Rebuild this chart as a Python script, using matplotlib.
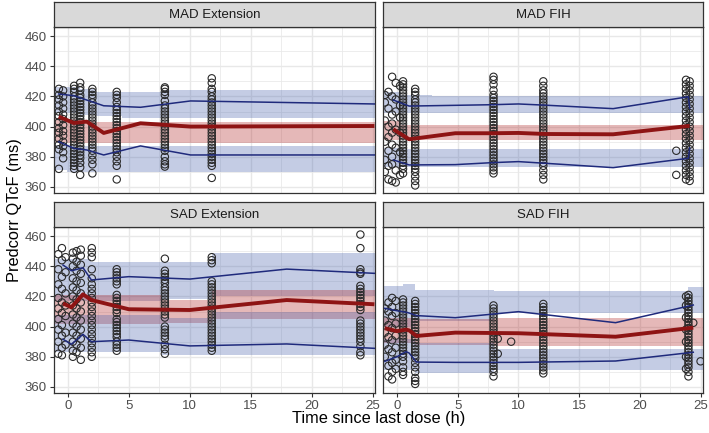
import matplotlib
matplotlib.use("Agg")
import matplotlib.pyplot as plt
from matplotlib.ticker import MultipleLocator

plt.rcParams['font.family'] = ['Liberation Sans', 'DejaVu Sans']

# ---------------- data ----------------
panel_titles = ["MAD Extension", "MAD FIH", "SAD Extension", "SAD FIH"]
x_ticks = [0, 5, 10, 15, 20, 25]
y_ticks = [360, 380, 400, 420, 440, 460]

# --- MAD Extension ---
madext_obs_t = [-0.75, -0.4, 0.5, 1.0, 2.0, 4.0, 7.95, 11.8]
madext_obs_v = [
    [425, 421, 418, 414, 410, 407, 403, 399, 396, 392, 388, 385, 372],
    [424, 420, 416, 412, 408, 405, 401, 397, 394, 390, 387, 383, 379],
    [427, 425, 423, 420, 418, 416, 414, 412, 410, 408, 406, 404, 402, 400, 398, 396, 394, 392, 390, 388, 386, 384, 382, 380, 378, 376, 374, 372],
    [429, 426, 424, 421, 419, 417, 415, 413, 411, 409, 407, 405, 403, 401, 399, 397, 395, 393, 391, 389, 387, 385, 383, 381, 379, 376, 373, 368],
    [425, 423, 421, 419, 416, 414, 412, 410, 408, 406, 404, 402, 400, 398, 396, 394, 392, 390, 388, 386, 384, 381, 378, 375, 369],
    [423, 421, 419, 416, 413, 411, 409, 407, 405, 403, 401, 399, 397, 395, 393, 391, 389, 387, 385, 383, 380, 377, 374, 365],
    [426, 425, 423, 421, 417, 414, 412, 410, 408, 406, 404, 402, 400, 398, 396, 394, 392, 390, 388, 386, 384, 380, 377, 375, 373.5],
    [432, 429, 425, 423, 420, 418, 416, 414, 412, 410, 408, 406, 404, 402, 400, 398, 396, 394, 392, 390, 388, 386, 384, 382, 380, 378, 376, 374, 366],
]
madext_line_x = [-0.76, 0.47, 1.54, 2.93, 5.95, 10.06, 25.15]
madext_med = [406.6, 402.4, 403.3, 395.8, 402.2, 400.0, 400.4]
madext_p95 = [421.6, 420.5, 417.6, 413.8, 412.8, 417.0, 415.0]
madext_p05 = [390.0, 385.6, 384.5, 381.2, 387.2, 381.2, 381.2]
madext_edges = [-1.2, -0.1, 1.0, 2.2, 4.4, 7.9, 17.4, 25.3]
madext_p95_lo = [409, 409, 408, 407, 406, 406, 406]
madext_p95_hi = [426, 426, 425, 423, 423, 424, 424]
madext_med_lo = [390, 389, 389, 389, 389, 389, 389]
madext_med_hi = [406, 405, 404, 403, 403, 403, 403]
madext_p05_lo = [371, 370, 370, 370, 370, 370, 370]
madext_p05_hi = [388, 387, 387, 387, 387, 387, 387]

# --- MAD FIH ---
madfih_obs_t = [-1.0, -0.7, -0.4, -0.1, 0.25, 0.5, 1.5, 7.95, 12.05, 23.0, 23.8, 24.1]
madfih_obs_v = [
    [421, 416, 404, 390, 378, 370],
    [423, 412, 400, 393, 384, 374, 365],
    [433, 420, 408, 402, 396, 388, 380, 375, 364],
    [429, 418, 410, 398, 386, 371, 363],
    [427, 414, 406, 396, 383, 368],
    [430, 428, 426, 424, 422, 420, 418, 416, 414, 412, 410, 408, 406, 404, 402, 400, 398, 396, 394, 392, 390, 388, 386, 384, 382, 380, 378, 376, 374, 372, 369],
    [425, 423, 421, 418, 416, 414, 412, 410, 408, 406, 404, 402, 400, 398, 396, 394, 392, 390, 388, 386, 384, 382, 380, 378, 376, 374, 372, 370, 367, 364, 361],
    [433, 431, 428, 424, 421, 419, 417, 415, 413, 411, 409, 407, 405, 403, 401, 399, 397, 395, 393, 391, 389, 387, 385, 383, 381, 379, 377, 375, 373, 371, 369],
    [430, 427, 424, 422, 420, 418, 416, 414, 412, 410, 408, 406, 404, 402, 400, 398, 396, 394, 392, 390, 388, 386, 384, 382, 380, 378, 376, 374, 371, 368, 365],
    [384, 368],
    [431, 428, 425, 422, 419, 416, 413, 410, 407, 404, 401, 398, 395, 392, 389, 386, 383, 380, 377, 374, 371, 368, 365],
    [430, 427, 424, 421, 418, 415, 412, 409, 406, 403, 400, 397, 394, 391, 388, 385, 382, 379, 376, 373, 370, 367, 364],
]
madfih_line_x = [-0.3, 1.0, 4.8, 7.8, 10.0, 12.2, 17.8, 24.0, 24.1]
madfih_med = [398.2, 391.6, 395.6, 395.6, 395.8, 395.1, 394.9, 400.4, 400.4]
madfih_p95 = [417.6, 413.6, 414.1, 414.5, 415.0, 414.2, 411.9, 419.8, 412.0]
madfih_p05 = [377.9, 374.6, 374.8, 376.1, 376.8, 375.7, 372.8, 379.0, 386.0]
madfih_edges = [-1.2, 0.35, 2.9, 6.3, 8.9, 11.1, 15.0, 20.9, 25.3]
madfih_p95_lo = [409, 409, 409, 409, 409, 409, 409, 409]
madfih_p95_hi = [423, 421, 420, 420, 420, 420, 420, 420]
madfih_med_lo = [391, 391, 391, 391, 391, 391, 391, 391]
madfih_med_hi = [404, 401, 401, 401, 401, 401, 401, 401]
madfih_p05_lo = [373, 373, 373, 373, 373, 373, 373, 373]
madfih_p05_hi = [386, 385, 385, 385, 385, 385, 385, 385]

# --- SAD Extension ---
sadext_obs_t = [-0.8, -0.5, -0.2, 0.4, 0.7, 1.05, 1.95, 4.0, 7.95, 11.8, 24.0]
sadext_obs_v = [
    [448, 438, 428, 419, 412, 405, 398, 390, 382],
    [452, 444, 433, 425, 416, 409, 401, 394, 386, 381],
    [446, 436, 422, 414, 407, 396, 388],
    [449, 445, 440, 432, 426, 420, 414, 408, 402, 396, 390, 384, 380],
    [450, 443, 437, 430, 424, 418, 412, 406, 400, 394, 388, 383],
    [451, 447, 441, 435, 429, 422, 416, 410, 404, 398, 392, 386, 378],
    [452, 449, 446, 438, 432, 428, 425, 422, 419, 416, 413, 410, 407, 404, 401, 398, 395, 392, 389, 386, 383, 380],
    [438, 436, 434, 432, 430, 428, 421, 419, 417, 415, 413, 411, 409, 405, 403, 401, 399, 397, 395, 393, 390, 388, 386, 384],
    [445, 437, 435, 433, 431, 429, 426, 424, 422, 420, 418, 416, 414, 412, 410, 408, 406, 400, 398, 396, 394, 392, 388, 385, 382],
    [446, 444, 442, 430, 428, 426, 424, 422, 420, 418, 416, 414, 412, 410, 408, 406, 404, 402, 400, 398, 396, 394, 392, 390, 388, 386, 384],
    [461, 452, 438, 436, 435, 427, 425, 423, 421, 419, 417, 415, 413, 411, 404, 402, 400, 398, 396, 394, 392, 390, 387, 383, 381],
]
sadext_line_x = [-0.41, 0.28, 1.23, 1.92, 4.99, 10.0, 17.95, 25.15]
sadext_med = [415.4, 412.8, 421.4, 417.6, 411.5, 411.0, 417.6, 414.8]
sadext_p95 = [440.8, 437.0, 439.0, 430.9, 433.1, 431.5, 438.1, 435.3]
sadext_p05 = [391.6, 388.3, 394.9, 390.0, 391.1, 387.2, 388.5, 385.6]
sadext_edges = [-1.2, 0.0, 0.5, 1.9, 7.7, 11.8, 24.0, 25.3]
sadext_p95_lo = [417, 417, 417, 417, 418, 420, 420]
sadext_p95_hi = [445, 445, 445, 443, 443, 448.5, 448.5]
sadext_med_lo = [402, 402, 402, 402, 402.5, 405, 405]
sadext_med_hi = [421, 421, 421, 421, 417.5, 424, 424]
sadext_p05_lo = [383.5, 383.5, 383.5, 383.5, 381, 381, 381]
sadext_p05_hi = [408, 408, 408, 408, 406, 410, 410]

# --- SAD FIH ---
sadfih_obs_t = [-1.0, -0.7, -0.4, -0.1, 0.5, 1.5, 7.95, 8.3, 9.4, 12.05, 23.8, 24.0, 24.4, 25.0]
sadfih_obs_v = [
    [412, 404, 396, 388, 380],
    [416, 410, 401, 393, 385, 374, 367],
    [419, 413, 407, 399, 391, 383, 376, 370, 365],
    [417, 409, 402, 394, 386, 378, 372],
    [418, 416, 414, 412, 410, 408, 406, 404, 402, 400, 398, 396, 394, 392, 390, 388, 386, 384, 382, 380, 377, 373, 370, 368],
    [417, 415, 413, 411, 409, 407, 405, 403, 401, 399, 397, 395, 393, 391, 389, 387, 385, 383, 381, 379, 376, 373, 370, 366, 364, 362],
    [414, 412, 410, 408, 406, 404, 402, 400, 398, 396, 394, 392, 390, 388, 386, 384, 382, 380, 378, 376, 374, 372, 370, 367],
    [392, 382],
    [390],
    [415, 413, 411, 409, 407, 405, 403, 401, 399, 397, 395, 393, 391, 389, 387, 385, 383, 381, 379, 377, 375, 373, 371, 369],
    [420, 414, 406, 398, 390, 380, 372],
    [421, 419, 417, 415, 413, 411, 409, 407, 405, 403, 401, 399, 397, 395, 393, 391, 389, 387, 385, 383, 381, 379, 377, 375, 373, 370, 367],
    [402.5],
    [377],
]
sadfih_line_x = [-1.0, 0.0, 0.75, 1.0, 1.6, 4.8, 10.0, 18.0, 24.4]
sadfih_med = [398.9, 397.0, 398.0, 397.5, 393.8, 396.0, 395.6, 393.3, 399.3]
sadfih_p95 = [412.1, 410.5, 409.5, 409.0, 407.3, 405.9, 409.9, 402.6, 414.3]
sadfih_p05 = [377.0, 380.0, 383.4, 382.5, 376.5, 376.3, 376.3, 377.2, 383.0]
sadfih_edges = [-1.2, 0.5, 1.5, 8.0, 24.0, 25.3]
sadfih_p95_lo = [400, 400, 404, 408.8, 408.8]
sadfih_p95_hi = [427, 428, 424, 423.5, 426.5]
sadfih_med_lo = [389, 389, 388, 387, 387]
sadfih_med_hi = [406, 406, 405, 405.5, 405.5]
sadfih_p05_lo = [371.3, 371.3, 369, 371, 371]
sadfih_p05_hi = [392, 392, 389, 385, 385]

panels = [
    (madext_obs_t, madext_obs_v, madext_line_x, madext_med, madext_p95, madext_p05,
     madext_edges, madext_p95_lo, madext_p95_hi, madext_med_lo, madext_med_hi, madext_p05_lo, madext_p05_hi),
    (madfih_obs_t, madfih_obs_v, madfih_line_x, madfih_med, madfih_p95, madfih_p05,
     madfih_edges, madfih_p95_lo, madfih_p95_hi, madfih_med_lo, madfih_med_hi, madfih_p05_lo, madfih_p05_hi),
    (sadext_obs_t, sadext_obs_v, sadext_line_x, sadext_med, sadext_p95, sadext_p05,
     sadext_edges, sadext_p95_lo, sadext_p95_hi, sadext_med_lo, sadext_med_hi, sadext_p05_lo, sadext_p05_hi),
    (sadfih_obs_t, sadfih_obs_v, sadfih_line_x, sadfih_med, sadfih_p95, sadfih_p05,
     sadfih_edges, sadfih_p95_lo, sadfih_p95_hi, sadfih_med_lo, sadfih_med_hi, sadfih_p05_lo, sadfih_p05_hi),
]

# ---------------- layout / style ----------------
W, H = 709, 433
fig = plt.figure(figsize=(W / 100, H / 100), dpi=100)

def rect(x0, y0, x1, y1):
    return [x0 / W, 1 - y1 / H, (x1 - x0) / W, (y1 - y0) / H]

panel_px = [(54, 27, 375, 193), (383, 27, 703, 193), (54, 227, 375, 393), (383, 227, 703, 393)]
strip_h = 25

BLUE_FILL = '#3D58A8'
RED_FILL = '#AC1616'
BLUE_LINE = '#1F2A7C'
RED_LINE = '#8E1414'
BORDER = '#333333'
GRID = '#E8E8E8'

for i, (title, pdata, pp) in enumerate(zip(panel_titles, panels, panel_px)):
    (obs_t, obs_v, lx, med, p95, p05, edges, p95lo, p95hi, medlo, medhi, p05lo, p05hi) = pdata
    x0, y0, x1, y1 = pp
    ax = fig.add_axes(rect(x0, y0, x1, y1))
    ax.set_xlim(-1.15, 25.2)
    ax.set_ylim(356, 466)
    ax.xaxis.set_major_locator(MultipleLocator(5))
    ax.xaxis.set_minor_locator(MultipleLocator(2.5))
    ax.yaxis.set_major_locator(MultipleLocator(20))
    ax.yaxis.set_minor_locator(MultipleLocator(10))
    ax.grid(which='major', color=GRID, lw=1.0, zorder=0)
    ax.grid(which='minor', color=GRID, lw=0.55, zorder=0)
    ax.set_axisbelow(True)

    def band(lo, hi):
        return lo + [lo[-1]], hi + [hi[-1]]
    for lo, hi, col in [(p95lo, p95hi, BLUE_FILL), (medlo, medhi, RED_FILL), (p05lo, p05hi, BLUE_FILL)]:
        l2, h2 = band(lo, hi)
        ax.fill_between(edges, l2, h2, step='post', color=col, alpha=0.3, lw=0, zorder=1)

    xs, ys = [], []
    for t, vals in zip(obs_t, obs_v):
        for v in vals:
            xs.append(t)
            ys.append(v)
    ax.scatter(xs, ys, s=28, facecolors='none', edgecolors='#2A2A2A', linewidths=0.8, zorder=2)

    ax.plot(lx, p95, color=BLUE_LINE, lw=1.1, zorder=3)
    ax.plot(lx, p05, color=BLUE_LINE, lw=1.1, zorder=3)
    ax.plot(lx, med, color=RED_LINE, lw=2.8, zorder=4, solid_capstyle='butt')

    for s in ax.spines.values():
        s.set_color(BORDER)
        s.set_linewidth(0.9)

    left = i in (0, 2)
    bottom = i in (2, 3)
    ax.set_xticks(x_ticks)
    ax.set_yticks(y_ticks)
    ax.tick_params(which='minor', length=0)
    ax.tick_params(axis='y', which='major', length=3 if left else 0, width=0.8,
                   color=BORDER, labelleft=left, labelsize=9.5, labelcolor='#4D4D4D', pad=2)
    ax.tick_params(axis='x', which='major', length=3 if bottom else 0, width=0.8,
                   color=BORDER, labelbottom=bottom, labelsize=9.5, labelcolor='#4D4D4D', pad=2)

    sax = fig.add_axes(rect(x0, y0 - strip_h, x1, y0))
    sax.set_facecolor('#D9D9D9')
    sax.set_xticks([])
    sax.set_yticks([])
    for s in sax.spines.values():
        s.set_color(BORDER)
        s.set_linewidth(0.9)
    sax.text(0.5, 0.5, title, ha='center', va='center', fontsize=9.5, color='#1A1A1A',
             transform=sax.transAxes)

fig.text(378.7 / W, 1 - 418 / H, "Time since last dose (h)", ha='center', va='center',
         fontsize=11.8, color='black')
fig.text(15 / W, 1 - 210 / H, "Predcorr QTcF (ms)", ha='center', va='center',
         rotation=90, fontsize=11.8, color='black')

fig.savefig("out.png", dpi=100)
